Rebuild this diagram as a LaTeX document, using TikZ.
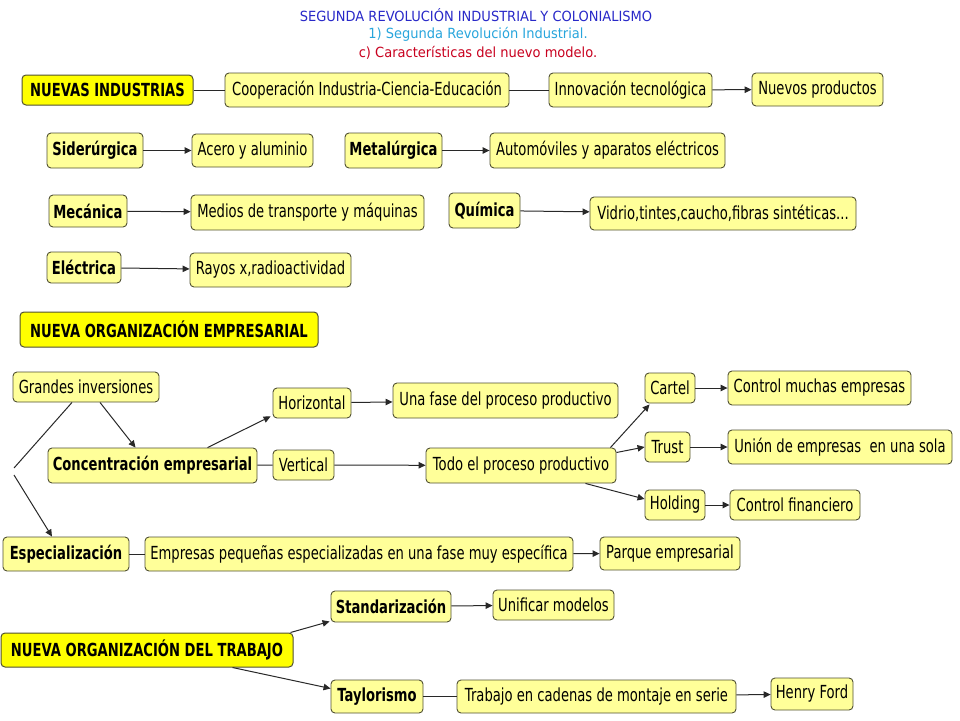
\documentclass[tikz,border=0pt]{standalone}
\usepackage{fontspec}
\setmainfont{DejaVu Sans}[FakeStretch=0.73]
\newfontfamily\ttlfont{DejaVu Sans}[FakeStretch=0.93]
\usetikzlibrary{arrows.meta,calc}
\definecolor{pale}{RGB}{255,255,153}
\definecolor{bright}{RGB}{255,255,0}
\definecolor{edge}{RGB}{80,80,50}
\definecolor{lin}{RGB}{40,40,40}
\definecolor{tblue}{RGB}{40,40,200}
\definecolor{tcyan}{RGB}{40,165,220}
\definecolor{tred}{RGB}{200,0,30}
\tikzset{
  box/.style={draw=edge, line width=0.9pt, fill=pale, rounded corners=4pt, inner sep=0pt, font=\fontsize{18}{20}\selectfont, text=black},
  bbox/.style={box, font=\fontsize{18}{20}\selectfont\bfseries},
  hbox/.style={box, fill=bright, line width=1pt, font=\fontsize{18}{20}\selectfont\bfseries},
  conn/.style={draw=lin, line width=1pt},
  arr/.style={conn, -{Triangle[length=7pt,width=6.5pt]}},
  ttl/.style={font=\ttlfont\fontsize{14}{16}\selectfont, inner sep=0pt}
}
\begin{document}
\begin{tikzpicture}[x=1pt,y=-1pt]
\useasboundingbox (0,0) rectangle (960,720);
% titles
\node[ttl, text=tblue] (t1) at (476,15) {SEGUNDA REVOLUCIÓN INDUSTRIAL Y COLONIALISMO};
\node[ttl, text=tcyan] (t2) at (478,34) {1) Segunda Revolución Industrial.};
\node[ttl, text=tred] (t3) at (478,53) {c) Características del nuevo modelo.};
% row 1
\node[hbox, minimum width=171, minimum height=30] (ni) at (107.5,90) {NUEVAS INDUSTRIAS};
\node[box, minimum width=284, minimum height=34] (coop) at (367,90) {Cooperación Industria-Ciencia-Educación};
\node[box, minimum width=163, minimum height=34] (innov) at (630.5,90) {Innovación tecnológica};
\node[box, minimum width=131, minimum height=33] (nuevos) at (817.5,89.5) {Nuevos productos};
% industries
\node[bbox, minimum width=96, minimum height=35] (sider) at (95,150.5) {Siderúrgica};
\node[box, minimum width=121, minimum height=33] (acero) at (252.5,150.5) {Acero y aluminio};
\node[bbox, minimum width=97, minimum height=35] (metal) at (393.5,150.5) {Metalúrgica};
\node[box, minimum width=235, minimum height=35] (auto) at (607.5,150.5) {Automóviles y aparatos eléctricos};
\node[bbox, minimum width=78, minimum height=32] (mec) at (88,211) {Mecánica};
\node[box, minimum width=233, minimum height=35] (medios) at (307.5,212.5) {Medios de transporte y máquinas};
\node[bbox, minimum width=71, minimum height=35] (quim) at (484.5,210.5) {Química};
\node[box, minimum width=266, minimum height=33] (vidrio) at (723,213.5) {Vidrio,tintes,caucho,fibras sintéticas...};
\node[bbox, minimum width=74, minimum height=31] (elec) at (84,267.5) {Eléctrica};
\node[box, minimum width=161, minimum height=34] (rayos) at (270.5,270) {Rayos x,radioactividad};
% organizacion empresarial
\node[hbox, minimum width=298, minimum height=35] (noe) at (169,329.5) {NUEVA ORGANIZACIÓN EMPRESARIAL};
\node[box, minimum width=146, minimum height=30] (grandes) at (86,387) {Grandes inversiones};
\node[box, minimum width=78, minimum height=30] (horiz) at (312,403) {Horizontal};
\node[box, minimum width=225, minimum height=35] (unafase) at (505.5,400.5) {Una fase del proceso productivo};
\node[box, minimum width=50, minimum height=30] (cartel) at (670,388) {Cartel};
\node[box, minimum width=183, minimum height=34] (ctrlm) at (819.5,388) {Control muchas empresas};
\node[bbox, minimum width=209, minimum height=35] (conc) at (152.5,465.5) {Concentración empresarial};
\node[box, minimum width=61, minimum height=30] (vert) at (303.5,465) {Vertical};
\node[box, minimum width=190, minimum height=35] (todo) at (521,465.5) {Todo el proceso productivo};
\node[box, minimum width=45, minimum height=30] (trust) at (667.5,447) {Trust};
\node[box, minimum width=224, minimum height=34] (union) at (840,447) {Unión de empresas\ \ en una sola};
\node[box, minimum width=60, minimum height=30] (hold) at (675,505) {Holding};
\node[box, minimum width=130, minimum height=30] (ctrlf) at (795,505) {Control financiero};
\node[bbox, minimum width=126, minimum height=34] (espec) at (66,554) {Especialización};
\node[box, minimum width=428, minimum height=34] (empresas) at (359,554) {Empresas pequeñas especializadas en una fase muy específica};
\node[box, minimum width=140, minimum height=33] (parque) at (670,553.5) {Parque empresarial};
% organizacion del trabajo
\node[bbox, minimum width=120, minimum height=31] (stand) at (391,606.5) {Standarización};
\node[box, minimum width=121, minimum height=30] (unif) at (553.5,605) {Unificar modelos};
\node[hbox, minimum width=292, minimum height=34] (not) at (147,650) {NUEVA ORGANIZACIÓN DEL TRABAJO};
\node[bbox, minimum width=92, minimum height=33] (taylor) at (377,696.5) {Taylorismo};
\node[box, minimum width=279, minimum height=33] (trabajo) at (596.5,696.5) {Trabajo en cadenas de montaje en serie};
\node[box, minimum width=82, minimum height=32] (henry) at (812,694) {Henry Ford};
% connectors row 1
\draw[conn] (ni) -- (coop);
\draw[conn] (coop) -- (innov);
\draw[arr] (innov) -- (nuevos);
% industries
\draw[arr] (sider) -- (acero);
\draw[arr] (metal) -- (auto);
\draw[arr] (mec) -- (medios);
\draw[arr] (quim) -- (vidrio);
\draw[arr] (elec) -- (rayos);
% empresarial
\coordinate (fork1) at (14,468);
\coordinate (fork2) at (14,475);
\draw[arr] ([xshift=14pt]grandes.south) -- ([xshift=-17pt]conc.north);
\draw[conn] ([xshift=-14pt]grandes.south) -- (fork1);
\draw[arr] (fork2) -- ([xshift=-14pt]espec.north);
\draw[arr] ([xshift=55pt]conc.north) -- ([xshift=-2pt,yshift=2pt]horiz.south west);
\draw[conn] (conc) -- (vert);
\draw[arr] (horiz) -- (unafase);
\draw[arr] (vert) -- (todo);
\draw[arr] ([xshift=-6pt]todo.north east) -- ([xshift=5pt,yshift=-1pt]cartel.south west);
\draw[arr] ([yshift=13pt]todo.east) -- (trust.west);
\draw[arr] ([xshift=-31pt]todo.south east) -- ([yshift=6pt]hold.west);
\draw[arr] (cartel) -- (ctrlm);
\draw[arr] (trust) -- (union);
\draw[arr] (hold) -- (ctrlf);
\draw[conn] (espec) -- (empresas);
\draw[arr] (empresas) -- (parque);
% trabajo
\draw[arr] ([xshift=-3pt]not.north east) -- ([xshift=-1pt,yshift=1pt]stand.south west);
\draw[arr] ([xshift=-61pt]not.south east) -- ([yshift=8pt]taylor.west);
\draw[arr] (stand) -- (unif);
\draw[conn] (taylor) -- (trabajo);
\draw[arr] (trabajo) -- (henry);
\end{tikzpicture}
\end{document}
